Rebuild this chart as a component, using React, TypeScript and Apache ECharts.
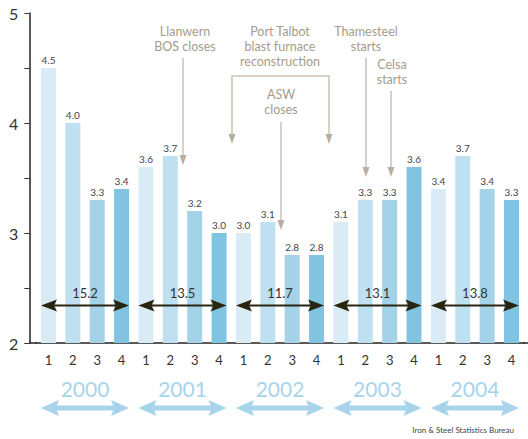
import React, { useEffect, useRef } from "react";
import * as echarts from "echarts";

const YEARS = ["2000", "2001", "2002", "2003", "2004"];
const QUARTERS = ["1", "2", "3", "4"];
const VALUES = [4.5, 4.0, 3.3, 3.4, 3.6, 3.7, 3.2, 3.0, 3.0, 3.1, 2.8, 2.8, 3.1, 3.3, 3.3, 3.6, 3.4, 3.7, 3.4, 3.3];
const TOTALS = [15.2, 13.5, 11.7, 13.1, 13.8];
const QUARTER_COLORS = ["#d9ecf6", "#bfe0f1", "#a4d3e9", "#80c4e2"];
const Y_MIN = 2;
const Y_MAX = 5;
const ARROW_LEVEL = 2.34;

const FONT = "Lato, 'Noto Sans', sans-serif";
const ANN_TEXT = "#a59c8b";
const ANN_LINE = "#cac3b7";
const ANN_HEAD = "#b8afa1";

function annLine(x: number, y1: number, y2: number) {
  return { type: "line", shape: { x1: x, y1, x2: x, y2: y2 - 6 }, style: { stroke: ANN_LINE, lineWidth: 1.5 }, z: 20 };
}
function annHead(x: number, tip: number) {
  return { type: "polygon", shape: { points: [[x - 3.5, tip - 10], [x + 3.5, tip - 10], [x, tip]] }, style: { fill: ANN_HEAD }, z: 20 };
}
function annText(x: number, yMid: number, text: string) {
  return {
    type: "text", x, y: yMid, z: 20,
    style: { text, fill: ANN_TEXT, font: `12.5px ${FONT}`, align: "center", verticalAlign: "middle", lineHeight: 15 },
  };
}

export default function App() {
  const ref = useRef<HTMLDivElement>(null);
  useEffect(() => {
    document.body.style.margin = "0";
    if (!ref.current) return;
    const chart = echarts.init(ref.current, undefined, { renderer: "svg" });
    const categories = YEARS.flatMap((y) => QUARTERS.map((q) => `${y} Q${q}`));
    const BW = 15;
    const option: any = {
      animation: false,
      textStyle: { fontFamily: FONT },
      grid: { left: 36.3, right: 4.3, top: 13, bottom: 96 },
      xAxis: {
        type: "category",
        data: categories,
        axisLine: { lineStyle: { color: "#222", width: 1.5 } },
        axisTick: { inside: true, alignWithLabel: true, length: 4, lineStyle: { color: "#333" } },
        axisLabel: { formatter: (v: string) => v.slice(-1), color: "#333", fontSize: 13, margin: 10, fontFamily: FONT },
      },
      yAxis: {
        type: "value",
        min: Y_MIN,
        max: Y_MAX,
        interval: 0.5,
        offset: 7,
        axisLine: { show: true, lineStyle: { color: "#222", width: 1.5 } },
        axisTick: { show: true, length: 5, lineStyle: { color: "#333" } },
        splitLine: { show: false },
        axisLabel: {
          formatter: (v: number) => (Math.abs(v - Math.round(v)) < 1e-6 ? String(Math.round(v)) : ""),
          color: "#333", fontSize: 16, margin: 11, fontFamily: FONT,
        },
      },
      series: [
        {
          type: "bar",
          data: VALUES.map((v, i) => ({ value: v, itemStyle: { color: QUARTER_COLORS[i % 4] } })),
          barWidth: BW,
          label: {
            show: true, position: "top", distance: 3,
            formatter: (p: any) => Number(p.value).toFixed(1),
            fontSize: 10, color: "#444", fontFamily: FONT,
          },
        },
        {
          type: "custom",
          clip: false,
          z: 10,
          encode: { x: 0, y: 1 },
          data: YEARS.map((y, i) => [i * 4, ARROW_LEVEL, TOTALS[i], y]),
          renderItem: (params: any, api: any) => {
            const start = api.value(0);
            const total = api.value(2);
            const year = YEARS[params.dataIndex];
            const p0 = api.coord([start, ARROW_LEVEL]);
            const p1 = api.coord([start + 3, ARROW_LEVEL]);
            const base = api.coord([start, Y_MIN])[1];
            const xl = p0[0] - BW / 2;
            const xr = p1[0] + BW / 2;
            const y = p0[1];
            const yb = base + 65;
            const blue = "#a7d4eb";
            const dark = "#2a2510";
            return {
              type: "group",
              children: [
                { type: "line", shape: { x1: xl + 10, y1: y, x2: xr - 10, y2: y }, style: { stroke: dark, lineWidth: 2 } },
                { type: "polygon", shape: { points: [[xl, y], [xl + 16, y - 6], [xl + 13, y], [xl + 16, y + 6]] }, style: { fill: dark } },
                { type: "polygon", shape: { points: [[xr, y], [xr - 16, y - 6], [xr - 13, y], [xr - 16, y + 6]] }, style: { fill: dark } },
                { type: "text", x: (xl + xr) / 2, y: y - 13, style: { text: Number(total).toFixed(1), fill: "#333", font: `13px ${FONT}`, align: "center", verticalAlign: "middle" } },
                { type: "text", x: (xl + xr) / 2, y: base + 45, style: { text: year, fill: blue, font: `21px ${FONT}`, align: "center", verticalAlign: "middle" } },
                { type: "line", shape: { x1: xl + 12, y1: yb, x2: xr - 12, y2: yb }, style: { stroke: blue, lineWidth: 5 } },
                { type: "polygon", shape: { points: [[xl, yb], [xl + 18, yb - 8], [xl + 15, yb], [xl + 18, yb + 8]] }, style: { fill: blue } },
                { type: "polygon", shape: { points: [[xr, yb], [xr - 18, yb - 8], [xr - 15, yb], [xr - 18, yb + 8]] }, style: { fill: blue } },
              ],
            };
          },
        },
      ],
      graphic: [
        { type: "line", shape: { x1: 29, y1: 343, x2: 37, y2: 343 }, style: { stroke: "#222", lineWidth: 1.5 } },
        { type: "line", shape: { x1: 523, y1: 343, x2: 528, y2: 343 }, style: { stroke: "#222", lineWidth: 1.5 } },
        annText(185, 38.5, "Llanwern\nBOS closes"),
        annLine(183, 58, 165),
        annHead(183, 165),
        annText(280, 46, "Port Talbot\nblast furnace\nreconstruction"),
        { type: "polyline", shape: { points: [[232, 138], [232, 76], [329, 76], [329, 138]] }, style: { stroke: ANN_LINE, lineWidth: 1.5, fill: "none" }, z: 20 },
        annHead(232, 144),
        annHead(329, 144),
        annText(281, 101.5, "ASW\ncloses"),
        annLine(281, 122, 230),
        annHead(281, 230),
        annText(366, 38.5, "Thamesteel\nstarts"),
        annLine(366, 58, 177),
        annHead(366, 177),
        annText(392, 71.5, "Celsa\nstarts"),
        annLine(391, 91, 177),
        annHead(391, 177),
        {
          type: "text", x: 514, y: 430,
          style: { text: "Iron & Steel Statistics Bureau", fill: "#444", font: `8px ${FONT}`, align: "right", verticalAlign: "middle" },
        },
      ],
    };
    chart.setOption(option);
    return () => chart.dispose();
  }, []);
  return <div ref={ref} style={{ width: 528, height: 439 }} />;
}
